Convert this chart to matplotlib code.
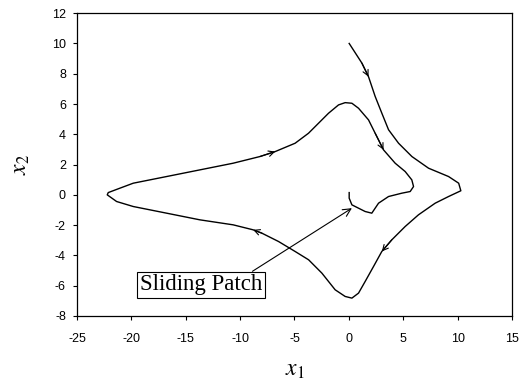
import matplotlib
matplotlib.use("Agg")
import matplotlib.pyplot as plt
import numpy as np

# trajectory, from the start (0, 10) to the sliding patch
x1 = [0.03, 1.2, 1.81, 2.42, 3.03, 3.65, 4.57, 5.8, 7.33, 9.17, 10.1, 10.3,
      9.17, 7.94, 6.4, 5.18, 3.95, 3.03, 2.27, 1.5, 0.89, 0.28, -0.34, -1.26,
      -2.48, -3.7, -4.94, -6.47, -8.0, -8.8, -10.64, -13.7, -16.76, -19.83,
      -21.36, -22.22, -22.13, -21.06, -19.83, -16.76, -13.7, -10.64, -8.18,
      -6.77, -4.94, -3.71, -2.79, -1.87, -0.95, -0.34, 0.28, 0.89, 1.81, 2.42,
      3.19, 4.26, 5.18, 5.79, 5.95, 5.64, 4.87, 3.65, 2.73, 2.11, 1.5, 0.89,
      0.28, 0.03, 0.03]
x2 = [10.0, 8.7, 7.8, 6.5, 5.4, 4.3, 3.41, 2.53, 1.76, 1.21, 0.77, 0.27,
      -0.11, -0.55, -1.32, -2.09, -2.97, -3.74, -4.73, -5.72, -6.49, -6.82,
      -6.71, -6.27, -5.17, -4.29, -3.74, -3.08, -2.53, -2.31, -1.98, -1.65,
      -1.21, -0.77, -0.44, 0.0, 0.15, 0.44, 0.77, 1.21, 1.65, 2.09, 2.53, 2.86,
      3.41, 4.07, 4.73, 5.39, 5.94, 6.09, 6.05, 5.72, 4.95, 4.07, 2.97, 2.09,
      1.54, 0.99, 0.55, 0.22, 0.11, -0.11, -0.55, -1.21, -1.1, -0.88, -0.66,
      -0.22, 0.15]
arrow_idx = [2, 17, 29, 43, 54]  # points where the direction arrows sit

patch_label = "Sliding Patch"
patch_point = (0.28, -0.88)
label_pos = (-13.6, -5.95)

plt.rcParams["font.family"] = ["Liberation Sans", "DejaVu Sans"]
plt.rcParams["mathtext.fontset"] = "stix"
plt.rcParams["axes.unicode_minus"] = False

fig = plt.figure(figsize=(5.24, 3.87), dpi=100)
ax = fig.add_axes([0.147, 0.1835, 0.83, 0.7825])

ax.plot(x1, x2, color="black", linewidth=1.0)

for i in arrow_idx:
    ax.annotate("", xy=(x1[i], x2[i]), xytext=(x1[i - 1], x2[i - 1]),
                arrowprops=dict(arrowstyle="->", color="black", lw=0.8,
                                mutation_scale=10, shrinkA=0, shrinkB=0))

ax.annotate(patch_label, xy=patch_point, xytext=label_pos,
            ha="center", va="center", fontsize=16.5, family="Liberation Serif",
            bbox=dict(boxstyle="square,pad=0.12", fc="white", ec="black", lw=0.8),
            arrowprops=dict(arrowstyle="->", color="black", lw=0.8,
                            mutation_scale=14, relpos=(0.88, 1.0),
                            shrinkA=0, shrinkB=0))

ax.set_xlim(-25, 15)
ax.set_ylim(-8, 12)
ax.set_xticks(np.arange(-25, 16, 5))
ax.set_yticks(np.arange(-8, 13, 2))
ax.tick_params(direction="out", length=3, width=0.8, labelsize=9)
ax.tick_params(axis="x", pad=9)
ax.tick_params(axis="y", pad=5)
for s in ax.spines.values():
    s.set_linewidth(0.9)

ax.set_xlabel("$x_1$", fontsize=17, labelpad=10)
ax.set_ylabel("$x_2$", fontsize=17, labelpad=14)

fig.savefig("out.png", dpi=100)
